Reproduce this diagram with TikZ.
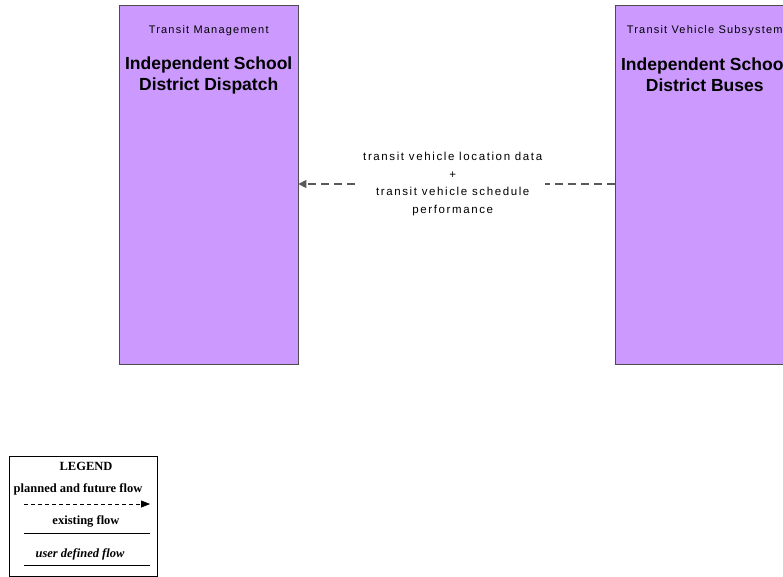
\documentclass[tikz,border=0pt]{standalone}
\usepackage{fontspec}
\setmainfont{Liberation Serif}
\setsansfont{Liberation Sans}
\newfontfamily\widesans[LetterSpace=11]{Liberation Sans}
\newfontfamily\flowsans[LetterSpace=14]{Liberation Sans}
\usetikzlibrary{arrows.meta, calc}

\begin{document}
\begin{tikzpicture}[
    x=1pt, y=-1pt,
    >=Triangle,
    % Styles
    subsystem/.style={
        draw=black!70, fill={rgb,255:red,204;green,153;blue,255},
        minimum width=179pt, minimum height=359pt,
        anchor=north west, inner sep=0pt
    },
    classlabel/.style={font=\widesans\fontsize{11}{13}\selectfont},
    titlelabel/.style={font=\sffamily\bfseries\fontsize{17.5}{21}\selectfont, align=center},
    flowlabel/.style={font=\flowsans\fontsize{11.5}{17.5}\selectfont, align=center, fill=white, inner sep=3pt},
    flow/.style={-{Triangle[length=8pt,width=8pt]}, draw=black!65, dash pattern=on 8pt off 5pt, line width=1.5pt},
    legendtext/.style={font=\rmfamily\bfseries\fontsize{12.5}{14}\selectfont}
  ]
    \useasboundingbox (0,0) rectangle (783,576);

    % --- Subsystems ---
    \node (Dispatch) [subsystem] at (119,5) {};
    \node (Buses) [subsystem] at (615,5) {};

    \node[classlabel] at ($(Dispatch.north)+(0,26)$) {Transit Management};
    \node[titlelabel] at ($(Dispatch.north)+(0,70)$) {Independent School\\District Dispatch};
    \node[classlabel] at ($(Buses.north)+(0,26)$) {Transit Vehicle Subsystem};
    \node[titlelabel] at ($(Buses.north)+(0,70)$) {Independent School\\District Buses};

    % --- Flow ---
    \coordinate (busesport) at (Buses.west |- 0,184);
    \coordinate (dispatchport) at (Dispatch.east |- 0,184);
    \draw[flow] (busesport) -- (dispatchport)
        node[flowlabel, midway, xshift=-4pt] {transit vehicle location data\\+\\transit vehicle schedule\\performance};

    % --- Legend ---
    \node (Legend) [draw, thick, minimum width=148pt, minimum height=120pt, anchor=north west, inner sep=0pt] at (9,456) {};
    \node[legendtext] at (86,466) {LEGEND};
    \node[legendtext] at (78,489) {planned and future flow};
    \coordinate (planstart) at (24,504);
    \coordinate (planend) at (150,504);
    \draw[-{Triangle[length=9pt,width=7pt]}, dash pattern=on 4pt off 3pt, thick] (planstart) -- (planend);
    \node[legendtext] at (86,521) {existing flow};
    \coordinate (existstart) at (24,533);
    \coordinate (existend) at (150,533);
    \draw[thick] (existstart) -- (existend);
    \node[legendtext, font=\rmfamily\bfseries\itshape\fontsize{12.5}{14}\selectfont] at (80,554) {user defined flow};
    \coordinate (userstart) at (24,565);
    \coordinate (userend) at (150,565);
    \draw[thick] (userstart) -- (userend);

\end{tikzpicture}
\end{document}
